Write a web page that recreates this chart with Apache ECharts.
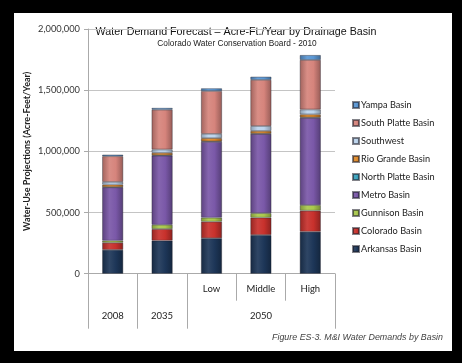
<!DOCTYPE html>
<html>
<head>
<meta charset="utf-8">
<script src="https://cdn.jsdelivr.net/npm/echarts@6/dist/echarts.min.js"></script>
<style>
html,body{margin:0;padding:0;background:#000;}
#c{width:462px;height:363px;}
</style>
</head>
<body>
<div id="c"></div>
<script>
// ---- data ----
var categories = ['2008', '2035', 'Low', 'Middle', 'High'];
var topLabels = ['', '', 'Low', 'Middle', 'High'];
var groupLabels = ['2008', '2035', '2050'];
var groupSpans = [1, 1, 3];
var yTicks = [0, 500000, 1000000, 1500000, 2000000];

var arkansas    = [195000, 270000, 290000, 316000, 343000];
var colorado    = [ 58000,  95000, 135000, 142000, 172000];
var gunnison    = [ 17000,  35000,  33000,  37000,  46000];
var metro       = [436000, 565000, 620000, 647000, 712000];
var northPlatte = [  2000,   3000,   3000,   3000,   4000];
var rioGrande   = [ 20000,  20000,  27000,  22000,  25000];
var southwest   = [ 22000,  27000,  35000,  40000,  40000];
var southPlatte = [210000, 325000, 350000, 377000, 405000];
var yampa       = [ 13000,  15000,  22000,  26000,  40000];

var seriesNames = ['Arkansas Basin', 'Colorado Basin', 'Gunnison Basin', 'Metro Basin',
  'North Platte Basin', 'Rio Grande Basin', 'Southwest', 'South Platte Basin', 'Yampa Basin'];
var seriesData = [arkansas, colorado, gunnison, metro, northPlatte, rioGrande, southwest, southPlatte, yampa];
var seriesColors = ['#1d3658', '#c8312c', '#a9c84c', '#7a58a8', '#3aa3be', '#e08b2a', '#bcd4ec', '#d6847c', '#5a97d4'];

// ---- helpers ----
function shade(hex, f) {
  var n = parseInt(hex.slice(1), 16);
  var r = (n >> 16) & 255, g = (n >> 8) & 255, b = n & 255;
  function m(c) { return Math.max(0, Math.min(255, Math.round(f < 0 ? c * (1 + f) : c + (255 - c) * f))); }
  return 'rgb(' + m(r) + ',' + m(g) + ',' + m(b) + ')';
}
function grad(hex) {
  return new echarts.graphic.LinearGradient(0, 0, 1, 0, [
    {offset: 0, color: shade(hex, -0.25)},
    {offset: 0.35, color: shade(hex, 0.08)},
    {offset: 0.65, color: hex},
    {offset: 1, color: shade(hex, -0.3)}
  ]);
}

var groupCenters = [];
(function () { var s = 0; groupSpans.forEach(function (w) { groupCenters.push(s + w / 2); s += w; }); })();
var groupBounds = [0];
(function () { var s = 0; groupSpans.forEach(function (w) { s += w; groupBounds.push(s); }); })();
var innerBounds = [];
(function () { var s = 0; groupSpans.forEach(function (w) { for (var k = 1; k < w; k++) innerBounds.push(s + k); s += w; }); })();

var labelFont = 'Lato, "Open Sans", sans-serif';

var series = seriesNames.map(function (name, i) {
  return {
    name: name,
    type: 'bar',
    stack: 'total',
    barWidth: 21,
    xAxisIndex: 0,
    data: seriesData[i],
    itemStyle: {
      color: grad(seriesColors[i]),
      borderColor: 'rgba(30,30,40,0.55)',
      borderWidth: 0.7
    },
    emphasis: {disabled: true}
  };
});

var chart = echarts.init(document.getElementById('c'), null, {renderer: 'canvas'});
chart.setOption({
  backgroundColor: '#000',
  animation: false,
  graphic: [
    {type: 'rect', z: -10, silent: true, shape: {x: 14, y: 13, width: 438, height: 338}, style: {fill: '#fff'}},
    {type: 'text', x: 236, y: 32, style: {text: 'Water Demand Forecast \u2013 Acre-Ft./Year by Drainage Basin', fill: '#111',
      font: '10.7px "Liberation Sans", Arial, sans-serif', align: 'center', verticalAlign: 'middle'}},
    {type: 'text', x: 237, y: 43.5, style: {text: 'Colorado Water Conservation Board - 2010', fill: '#222',
      font: '8.3px "Liberation Sans", Arial, sans-serif', align: 'center', verticalAlign: 'middle'}},
    {type: 'text', x: 443, y: 338, style: {text: 'Figure ES-3. M&I Water Demands by Basin', fill: '#444',
      font: 'italic 8.9px "Liberation Sans", Arial, sans-serif', align: 'right', verticalAlign: 'middle'}}
  ],
  grid: {left: 88, right: 127, top: 29, bottom: 89.3, containLabel: false},
  legend: {
    orient: 'vertical',
    left: 347,
    top: 94,
    itemWidth: 6,
    itemHeight: 6,
    itemGap: 6,
    icon: 'rect',
    data: seriesNames.slice().reverse(),
    textStyle: {fontFamily: labelFont, fontSize: 9.2, color: '#222', lineHeight: 12, padding: [0, 0, 0, -3]},
    selectedMode: false
  },
  xAxis: [
    {
      type: 'category',
      data: categories,
      axisLine: {show: true, lineStyle: {color: '#aaa', width: 1}},
      axisTick: {show: false},
      axisLabel: {formatter: function (v, i) { return topLabels[i]; }, margin: 10, fontFamily: labelFont, fontSize: 9.5, color: '#222'},
      splitLine: {show: false}
    },
    {
      type: 'value',
      min: 0, max: categories.length,
      position: 'bottom',
      axisLine: {show: false},
      axisTick: {show: true, customValues: groupBounds, length: 55, inside: false, lineStyle: {color: '#aaa'}},
      axisLabel: {show: true, customValues: groupCenters, margin: 37, fontFamily: labelFont, fontSize: 9.5, color: '#222',
        formatter: function (v) { var k = groupCenters.indexOf(v); return k >= 0 ? groupLabels[k] : ''; }},
      splitLine: {show: false}
    },
    {
      type: 'value',
      min: 0, max: categories.length,
      position: 'bottom',
      axisLine: {show: false},
      axisTick: {show: true, customValues: innerBounds, length: 27, lineStyle: {color: '#aaa'}},
      axisLabel: {show: false},
      splitLine: {show: false}
    }
  ],
  yAxis: {
    type: 'value',
    min: yTicks[0],
    max: yTicks[yTicks.length - 1],
    interval: yTicks[1] - yTicks[0],
    name: 'Water-Use Projections (Acre-Feet/Year)',
    nameLocation: 'middle',
    nameGap: 56,
    nameMoveOverlap: false,
    nameTextStyle: {fontFamily: labelFont, fontSize: 9, fontWeight: 'bold', color: '#222'},
    axisLine: {show: true, lineStyle: {color: '#aaa'}},
    axisTick: {show: true, length: 4, lineStyle: {color: '#aaa'}},
    axisLabel: {margin: 8, fontFamily: labelFont, fontSize: 9.3, color: '#333',
      formatter: function (v) { return v.toString().replace(/\B(?=(\d{3})+(?!\d))/g, ','); }},
    splitLine: {show: true, lineStyle: {color: '#c4c4c4', width: 1}}
  },
  series: series
});
</script>
</body>
</html>
